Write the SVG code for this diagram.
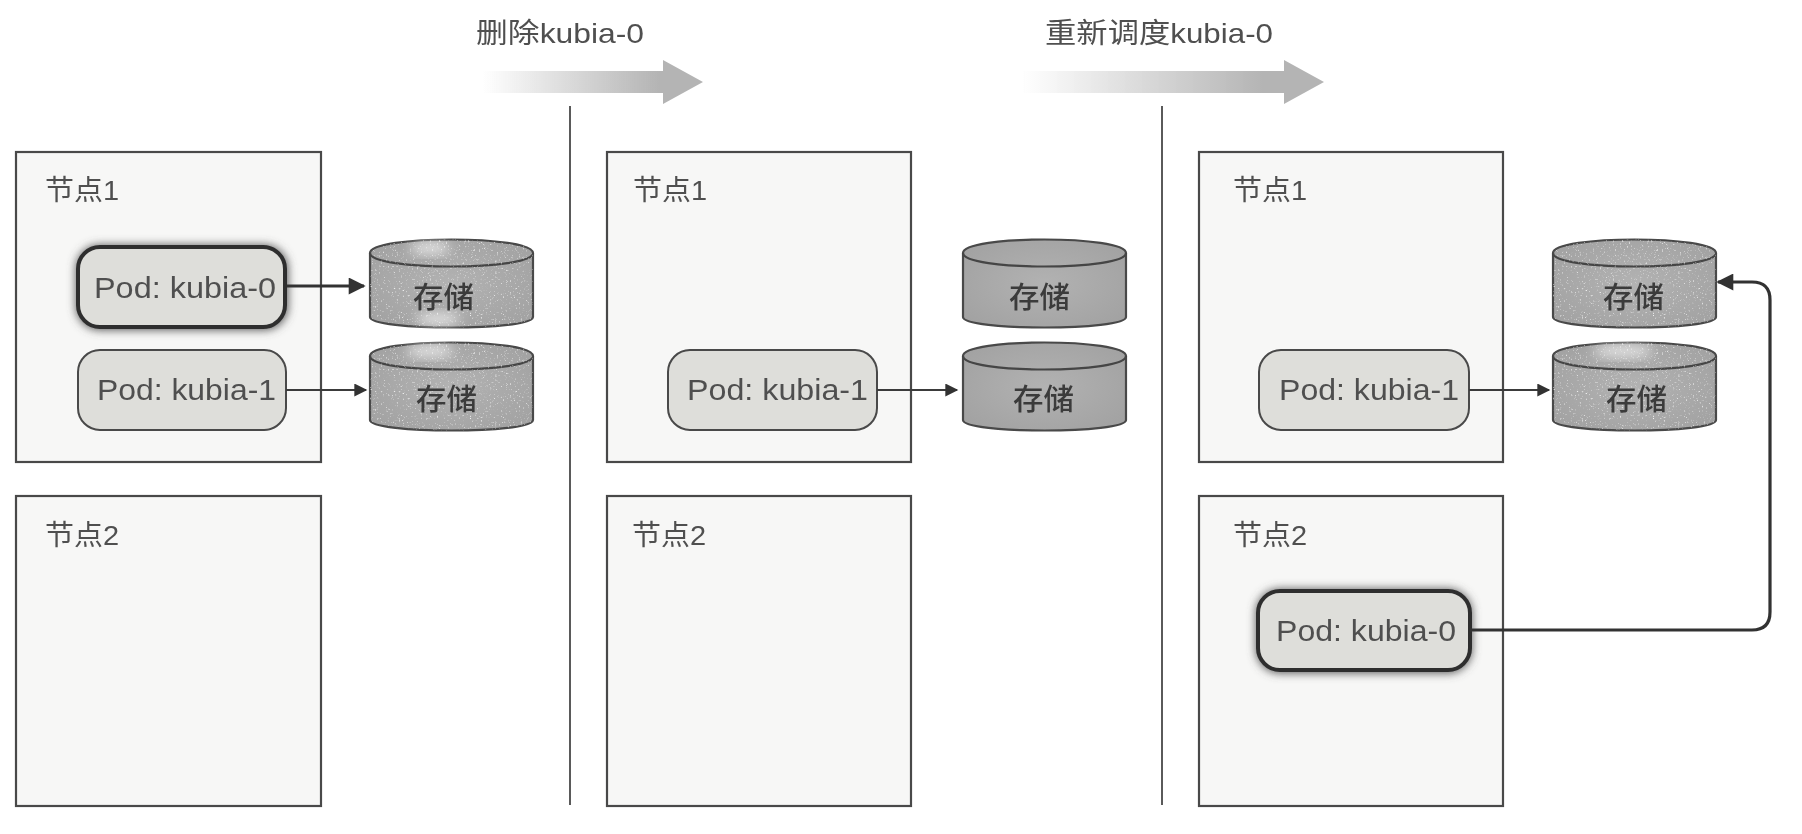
<svg xmlns="http://www.w3.org/2000/svg" width="1802" height="834" viewBox="0 0 1802 834">
<style>
text{font-family:"Liberation Sans","Noto Sans CJK SC",sans-serif;fill:#505050}
.node{fill:#f7f7f6;stroke:#4a4a4a;stroke-width:2.2}
.pod{fill:#dededa;stroke:#484848;stroke-width:2}
.hot{fill:#dededa;stroke:#2e2e2e;stroke-width:4}
.podt{font-size:30px}
.lab{font-size:28px}
.div{stroke:#5a5a5a;stroke-width:2}
.cyl{fill:url(#cylg);stroke:#484848;stroke-width:2.2}
.rim{fill:none;stroke:#444;stroke-width:2.2}
.patch{fill:#fff;opacity:.7}
.stor{font-size:29px;font-weight:500;fill:#3a3a3a}
.wire{fill:none;stroke:#3a3a3a;stroke-width:2}
.wire2{fill:none;stroke:#333;stroke-width:3.2}
</style>
<defs>
<linearGradient id="arr"><stop offset="0" stop-color="#b4b4b4" stop-opacity="0"/><stop offset="0.8" stop-color="#b4b4b4"/></linearGradient>
<radialGradient id="cylg" cx="0.5" cy="0.5" r="0.7"><stop offset="0" stop-color="#b2b2b2"/><stop offset="1" stop-color="#a0a0a0"/></radialGradient>
<filter id="soft" x="-20%" y="-20%" width="140%" height="140%"><feGaussianBlur stdDeviation="5"/></filter>
<filter id="haze" x="-40%" y="-40%" width="180%" height="180%"><feGaussianBlur stdDeviation="6"/></filter>
<filter id="scan" filterUnits="userSpaceOnUse" x="0" y="0" width="1802" height="834"><feGaussianBlur stdDeviation="0.55"/></filter>
<filter id="grain" x="0" y="0" width="100%" height="100%"><feTurbulence type="fractalNoise" baseFrequency="0.55" numOctaves="2" seed="4"/><feColorMatrix values="0 0 0 0 1 0 0 0 0 1 0 0 0 0 1 0 0 0 3 -1.85"/><feComposite in2="SourceGraphic" operator="in"/></filter>
<marker id="ah" viewBox="0 0 10 10" refX="9" refY="5" markerWidth="18" markerHeight="13" markerUnits="userSpaceOnUse" orient="auto"><path d="M0 0L10 5L0 10Z" fill="#333"/></marker>
<marker id="ah2" viewBox="0 0 10 10" refX="9" refY="5" markerWidth="24" markerHeight="17" markerUnits="userSpaceOnUse" orient="auto"><path d="M0 0L10 5L0 10Z" fill="#333"/></marker>
<path id="cb" d="M0 14V78C0 92 163 92 163 78V14C163 -4 0 -4 0 14Z"/>
</defs>
<g filter="url(#scan)">
<g id="banner-1"><path d="M483 71H663V60L703 82L663 104V93H483Z" fill="url(#arr)"/><text class="lab" x="476" y="43" textLength="168" lengthAdjust="spacingAndGlyphs">删除kubia-0</text></g>
<g id="banner-2"><path d="M1023 71H1284V60L1324 82L1284 104V93H1023Z" fill="url(#arr)"/><text class="lab" x="1045" y="43" textLength="228" lengthAdjust="spacingAndGlyphs">重新调度kubia-0</text></g>
<line class="div" x1="570" y1="106" x2="570" y2="805"/>
<line class="div" x1="1162" y1="106" x2="1162" y2="805"/>

<g id="a-node1"><rect class="node" x="16" y="152" width="305" height="310"/><text class="lab" x="45" y="200" textLength="74" lengthAdjust="spacingAndGlyphs">节点1</text></g>
<g id="a-node2"><rect class="node" x="16" y="496" width="305" height="310"/><text class="lab" x="45" y="545" textLength="74" lengthAdjust="spacingAndGlyphs">节点2</text></g>
<g id="b-node1"><rect class="node" x="607" y="152" width="304" height="310"/><text class="lab" x="633" y="200" textLength="74" lengthAdjust="spacingAndGlyphs">节点1</text></g>
<g id="b-node2"><rect class="node" x="607" y="496" width="304" height="310"/><text class="lab" x="632" y="545" textLength="74" lengthAdjust="spacingAndGlyphs">节点2</text></g>
<g id="c-node1"><rect class="node" x="1199" y="152" width="304" height="310"/><text class="lab" x="1233" y="200" textLength="74" lengthAdjust="spacingAndGlyphs">节点1</text></g>
<g id="c-node2"><rect class="node" x="1199" y="496" width="304" height="310"/><text class="lab" x="1233" y="545" textLength="74" lengthAdjust="spacingAndGlyphs">节点2</text></g>

<g id="a-pod0"><rect x="76" y="245" width="212" height="85" rx="24" fill="#555" filter="url(#soft)"/><rect class="hot" x="78" y="247" width="207" height="80" rx="22"/><text class="podt" x="94" y="298" textLength="182" lengthAdjust="spacingAndGlyphs">Pod: kubia-0</text></g>
<g id="a-pod1"><rect class="pod" x="78" y="350" width="208" height="80" rx="22"/><text class="podt" x="97" y="400" textLength="179" lengthAdjust="spacingAndGlyphs">Pod: kubia-1</text></g>
<g id="b-pod1"><rect class="pod" x="668" y="350" width="209" height="80" rx="22"/><text class="podt" x="687" y="400" textLength="181" lengthAdjust="spacingAndGlyphs">Pod: kubia-1</text></g>
<g id="c-pod1"><rect class="pod" x="1259" y="350" width="210" height="80" rx="22"/><text class="podt" x="1279" y="400" textLength="180" lengthAdjust="spacingAndGlyphs">Pod: kubia-1</text></g>
<g id="c-pod0"><rect x="1256" y="589" width="216" height="84" rx="24" fill="#555" filter="url(#soft)"/><rect class="hot" x="1258" y="591" width="212" height="79" rx="22"/><text class="podt" x="1276" y="641" textLength="180" lengthAdjust="spacingAndGlyphs">Pod: kubia-0</text></g>

<g id="a-store0" transform="translate(370 239)"><use href="#cb" class="cyl"/><ellipse class="patch" cx="60" cy="9" rx="20" ry="6" filter="url(#haze)"/><ellipse class="patch" cx="68" cy="80" rx="22" ry="6" filter="url(#haze)"/><path class="rim" d="M0 14C0 32 163 32 163 14"/><use href="#cb" fill="#fff" filter="url(#grain)"/><text class="stor" x="43" y="69" textLength="61" lengthAdjust="spacingAndGlyphs">存储</text></g>
<g id="a-store1" transform="translate(370 342)"><use href="#cb" class="cyl"/><ellipse class="patch" cx="60" cy="9" rx="24" ry="6" filter="url(#haze)"/><path class="rim" d="M0 14C0 32 163 32 163 14"/><use href="#cb" fill="#fff" filter="url(#grain)"/><text class="stor" x="46" y="68" textLength="61" lengthAdjust="spacingAndGlyphs">存储</text></g>
<g id="b-store0" transform="translate(963 239)"><use href="#cb" class="cyl"/><path class="rim" d="M0 14C0 32 163 32 163 14"/><text class="stor" x="46" y="69" textLength="61" lengthAdjust="spacingAndGlyphs">存储</text></g>
<g id="b-store1" transform="translate(963 342)"><use href="#cb" class="cyl"/><path class="rim" d="M0 14C0 32 163 32 163 14"/><text class="stor" x="50" y="68" textLength="61" lengthAdjust="spacingAndGlyphs">存储</text></g>
<g id="c-store0" transform="translate(1553 239)"><use href="#cb" class="cyl"/><path class="rim" d="M0 14C0 32 163 32 163 14"/><use href="#cb" fill="#fff" filter="url(#grain)"/><text class="stor" x="50" y="69" textLength="61" lengthAdjust="spacingAndGlyphs">存储</text></g>
<g id="c-store1" transform="translate(1553 342)"><use href="#cb" class="cyl"/><ellipse class="patch" cx="70" cy="9" rx="30" ry="6" filter="url(#haze)"/><path class="rim" d="M0 14C0 32 163 32 163 14"/><use href="#cb" fill="#fff" filter="url(#grain)"/><text class="stor" x="53" y="68" textLength="61" lengthAdjust="spacingAndGlyphs">存储</text></g>

<g id="connectors">
<path class="wire2" d="M287 286H364" marker-end="url(#ah2)"/>
<path class="wire" d="M286 390H366" marker-end="url(#ah)"/>
<path class="wire" d="M877 390H957" marker-end="url(#ah)"/>
<path class="wire" d="M1469 390H1549" marker-end="url(#ah)"/>
<path class="wire2" d="M1470 630H1752Q1770 630 1770 612V300Q1770 282 1752 282H1718" marker-end="url(#ah2)"/>
</g>
</g>
</svg>
